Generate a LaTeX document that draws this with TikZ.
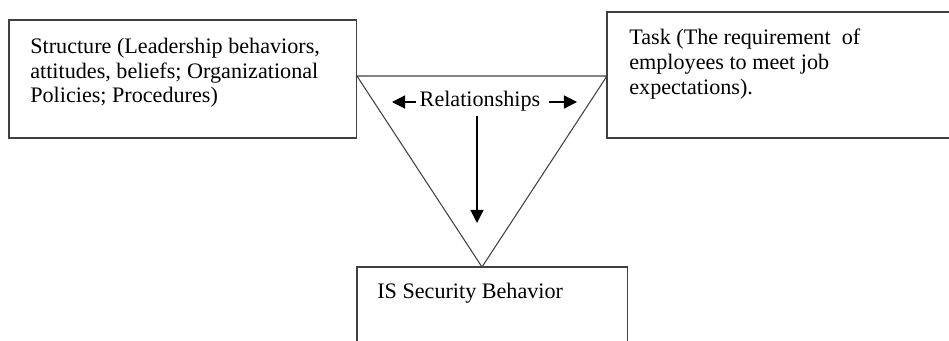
\documentclass[tikz,border=0pt]{standalone}
\usepackage{fontspec}
\setmainfont{Liberation Serif}
\usetikzlibrary{arrows.meta}

\begin{document}
\begin{tikzpicture}[x=0.02cm, y=-0.02cm,
    box/.style = {draw=black!75, line width=0.6pt, inner sep=0, outer sep=0, anchor=north west},
    boxtext/.style = {anchor=north west, inner sep=0, align=left, font=\fontsize{12.6}{14}\selectfont},
    arr/.style = {-{Triangle[length=7.5pt,width=7.5pt]}, line width=0.7pt}]

    \useasboundingbox (0,0) rectangle (949,341);

    % Boxes
    \node[box, minimum width=6.96cm, minimum height=2.36cm] (structure) at (9,20) {};
    \node[box, minimum width=7.2cm, minimum height=2.52cm] (task) at (607,12) {};
    \node[box, minimum width=5.42cm, minimum height=2.4cm] (behavior) at (357,267) {};

    % Text
    \node[boxtext] (structuretext) at (30,38) {Structure (Leadership behaviors,\\ attitudes, beliefs; Organizational\\ Policies; Procedures)};
    \node[boxtext] (tasktext) at (629,29) {Task (The requirement \ of\\ employees to meet job\\ expectations).};
    \node[boxtext] (behaviortext) at (377,283) {IS Security Behavior};

    % Triangle
    \coordinate (apex) at (482,267);
    \draw[black!75, line width=0.6pt] (structure.east |- 0,76) -- (task.west |- 0,76) -- (apex) -- cycle;

    % Relationships + arrows
    \node[inner sep=2pt, anchor=base, font=\fontsize{12.6}{14}\selectfont] (rel) at (480,107) {Relationships};
    \coordinate (relleft) at (392,102);
    \coordinate (relright) at (577,102);
    \coordinate (reldown) at (477,223);
    \draw[arr] (rel.west |- relleft) -- (relleft);
    \draw[arr] ([xshift=0.1cm]rel.east |- relright) -- (relright);
    \draw[arr] (rel.south -| reldown) -- (reldown);

\end{tikzpicture}
\end{document}
